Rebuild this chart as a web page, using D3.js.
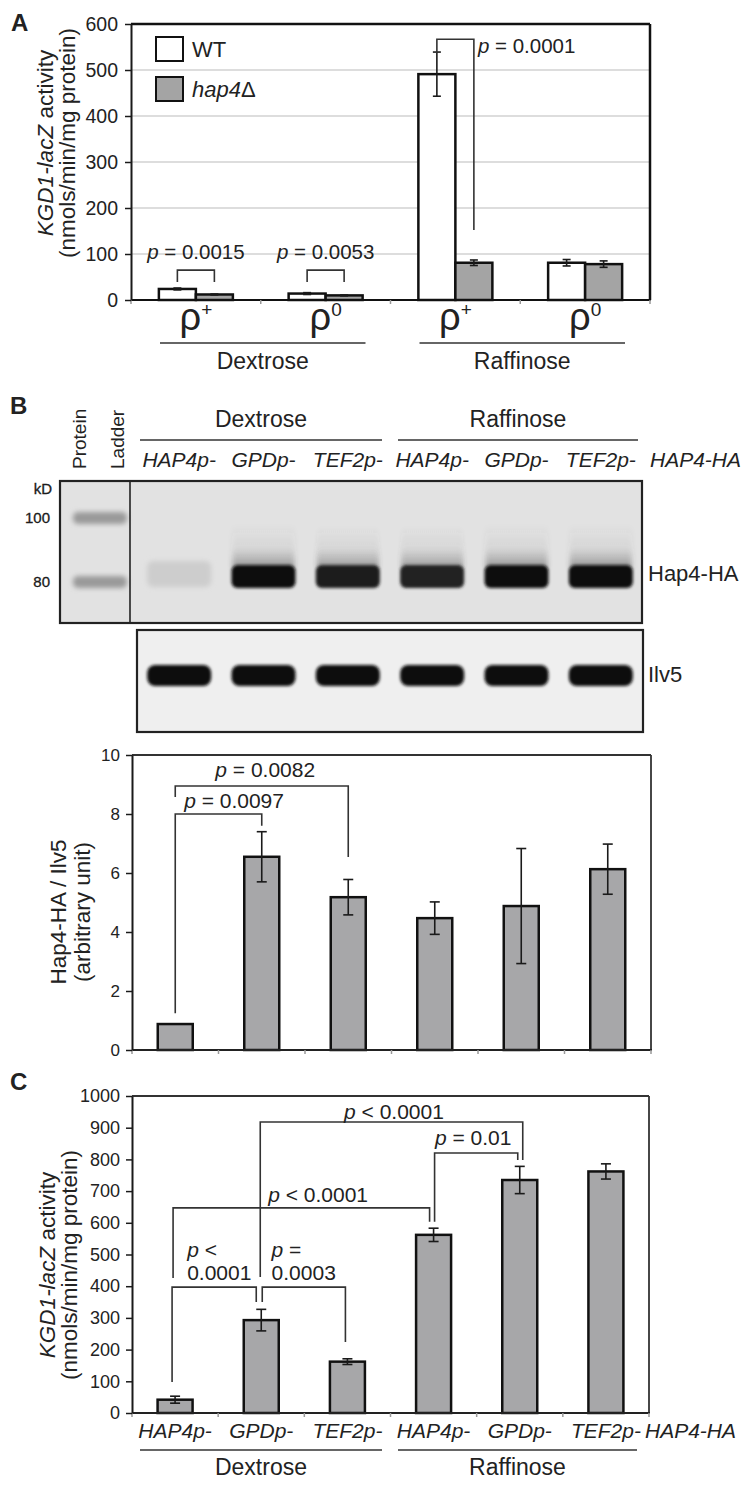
<!DOCTYPE html>
<html><head><meta charset="utf-8">
<script src="https://cdn.jsdelivr.net/npm/d3@7"></script>
<style>
body{margin:0;background:#fff}
svg{display:block}
text{font-family:"Liberation Sans",Arial,Helvetica,sans-serif;fill:#222}
</style>
</head><body>
<svg id="fig" width="745" height="1485"></svg>
<script>
// ---------------- Panel A data ----------------
const rhoStates = ["+", "0", "+", "0"];
const carbonSources = ["Dextrose", "Raffinose"];
const strainsA = ["WT", "hap4Δ"];
const wtActivity = [24, 14, 491, 81];
const wtError = [2, 2, 48, 7];
const hap4Activity = [12, 10, 81, 78];
const hap4Error = [1, 1, 6, 7];
const ticksA = [0, 100, 200, 300, 400, 500, 600];
// brackets: category, bracket level, leg ends (data units), label
const bracketsA = [
  {cat: 0, level: 65, endWT: 39, endHap: 39, label: "p = 0.0015", textLevel: 89, mode: "above"},
  {cat: 1, level: 65, endWT: 39, endHap: 39, label: "p = 0.0053", textLevel: 89, mode: "above"},
  {cat: 2, level: 567, endWT: 537, endHap: 152, label: "p = 0.0001", textLevel: 537, mode: "right"}
];

// ---------------- Panel B data ----------------
const promoters = ["HAP4p-", "GPDp-", "TEF2p-", "HAP4p-", "GPDp-", "TEF2p-"];
const hap4BandIntensity = [0.1, 1, 0.95, 0.92, 1, 1];
const ilv5BandIntensity = [1, 1, 1, 1, 1, 1];
const ladderKD = [100, 80];
const ratioB = [0.88, 6.55, 5.18, 4.47, 4.88, 6.13];
const ratioErrB = [0, 0.85, 0.6, 0.55, 1.95, 0.85];
const ticksB = [0, 2, 4, 6, 8, 10];
const bracketsB = [
  {from: 0, to: 2, level: 8.95, endFrom: 8.58, endTo: 6.54, lines: ["p = 0.0082"], textAt: 1.04, anchor: "middle", textLevels: [9.25]},
  {from: 0, to: 1, level: 8.0, endFrom: 1.25, endTo: 7.6, lines: ["p = 0.0097"], textAt: 0.68, anchor: "middle", textLevels: [8.2]}
];

// ---------------- Panel C data ----------------
const activityC = [42, 293, 162, 562, 735, 762];
const activityErrC = [11, 34, 9, 21, 43, 24];
const ticksC = [0, 100, 200, 300, 400, 500, 600, 700, 800, 900, 1000];
const bracketsC = [
  {from: 1, to: 4, dxFrom: -1, dxTo: 3, level: 918, endFrom: 429, endTo: 798, lines: ["p < 0.0001"], textAt: 2.54, anchor: "middle", textLevels: [927]},
  {from: 3, to: 4, dxFrom: 1, dxTo: -2, level: 820, endFrom: 603, endTo: 798, lines: ["p = 0.01"], textAt: 3.46, anchor: "middle", textLevels: [845]},
  {from: 0, to: 3, dxFrom: -2, dxTo: -4, level: 647, endFrom: 426, endTo: 603, lines: ["p < 0.0001"], textAt: 1.08, anchor: "start", textLevels: [666]},
  {from: 0, to: 1, dxFrom: -3, dxTo: -5, level: 397, endFrom: 98, endTo: 350, lines: ["p <", "0.0001"], textAt: 0.14, anchor: "start", textLevels: [492, 420]},
  {from: 1, to: 2, dxFrom: 1, dxTo: -2, level: 397, endFrom: 350, endTo: 224, lines: ["p =", "0.0003"], textAt: 1.12, anchor: "start", textLevels: [492, 420]}
];

// ---------------- helpers ----------------
const svg = d3.select("#fig");
const INK = "#1a1a1a";
const defs = svg.append("defs");
defs.append("filter").attr("id", "blurS").attr("x", "-20%").attr("y", "-50%").attr("width", "140%").attr("height", "200%")
  .append("feGaussianBlur").attr("stdDeviation", 1.4);
defs.append("filter").attr("id", "blurL").attr("x", "-20%").attr("y", "-50%").attr("width", "140%").attr("height", "200%")
  .append("feGaussianBlur").attr("stdDeviation", 2.5);
const smear = defs.append("linearGradient").attr("id", "smear").attr("x1", 0).attr("y1", 0).attr("x2", 0).attr("y2", 1);
smear.append("stop").attr("offset", "0%").attr("stop-color", "#555").attr("stop-opacity", 0);
smear.append("stop").attr("offset", "55%").attr("stop-color", "#555").attr("stop-opacity", 0.08);
smear.append("stop").attr("offset", "100%").attr("stop-color", "#333").attr("stop-opacity", 0.45);

function rich(parent, x, y, parts, size, anchor, transform) {
  const t = parent.append("text").attr("x", x).attr("y", y).attr("font-size", size)
    .attr("text-anchor", anchor || "start");
  if (transform) t.attr("transform", transform);
  parts.forEach(([s, it]) => t.append("tspan").attr("font-style", it ? "italic" : "normal").text(s));
  return t;
}
function pParts(line) {
  if (line.startsWith("p ")) return [["p", true], [line.slice(1), false]];
  return [[line, false]];
}
function line(parent, x1, y1, x2, y2, w, col) {
  parent.append("line").attr("x1", x1).attr("y1", y1).attr("x2", x2).attr("y2", y2)
    .attr("stroke", col || INK).attr("stroke-width", w || 1.5);
}
function bracket(parent, x1, x2, yTop, y1, y2) {
  parent.append("path").attr("d", `M${x1},${y1}V${yTop}H${x2}V${y2}`)
    .attr("fill", "none").attr("stroke", "#333").attr("stroke-width", 1.6);
}
function errBar(parent, x, yHi, yLo, cap) {
  line(parent, x, yHi, x, yLo, 1.6);
  line(parent, x - cap, yHi, x + cap, yHi, 1.6);
  line(parent, x - cap, yLo, x + cap, yLo, 1.6);
}
function styleAxis(g, size) {
  g.selectAll("text").attr("font-size", size).attr("fill", "#222").attr("font-family", '"Liberation Sans",Arial,sans-serif');
  g.selectAll("line").attr("stroke", INK).attr("stroke-width", 1.5);
  g.select(".domain").attr("stroke", INK).attr("stroke-width", 2);
}
function panelLabel(t, x, y) {
  svg.append("text").attr("x", x).attr("y", y).attr("font-size", 24).attr("font-weight", "bold").attr("fill", "#111").text(t);
}

// ================= Panel A =================
const gA = svg.append("g");
const xA = d3.scaleBand().domain(d3.range(rhoStates.length)).range([131, 650]);
const yA = d3.scaleLinear().domain([0, 600]).range([300, 24]);
const barWA = 37;
const cA = i => xA(i) + xA.bandwidth() / 2;

ticksA.filter(t => t > 0 && t < 600).forEach(t => line(gA, 131, yA(t), 650, yA(t), 1.5, "#d2d2d2"));

const seriesA = [
  {vals: wtActivity, errs: wtError, fill: "#ffffff", off: -barWA},
  {vals: hap4Activity, errs: hap4Error, fill: "#a4a4a4", off: 0}
];
seriesA.forEach(s => {
  gA.selectAll(null).data(s.vals).enter().append("rect")
    .attr("x", (d, i) => cA(i) + s.off).attr("width", barWA)
    .attr("y", d => yA(d)).attr("height", d => yA(0) - yA(d))
    .attr("fill", s.fill).attr("stroke", "#111").attr("stroke-width", 2.5);
});
seriesA.forEach(s => {
  s.vals.forEach((v, i) => {
    const x = cA(i) + s.off + barWA / 2;
    errBar(gA, x, yA(v + s.errs[i]), yA(v - s.errs[i]), 4);
  });
});

line(gA, 131, yA(600), 650, yA(600), 2.5, "#111");
line(gA, 650, yA(600), 650, yA(0), 2.5, "#111");
line(gA, 131, yA(0), 651, yA(0), 2, "#111");
d3.range(rhoStates.length + 1).forEach(i => {
  const x = 131 + i * xA.bandwidth();
  line(gA, x, yA(0), x, yA(0) + 4, 1.5, "#999");
});
const axA = gA.append("g").attr("transform", "translate(131,0)")
  .call(d3.axisLeft(yA).tickValues(ticksA).tickFormat(d3.format("d")).tickSize(6).tickSizeOuter(0).tickPadding(7));
styleAxis(axA, 19.5);

bracketsA.forEach(b => {
  const xw = cA(b.cat) - barWA / 2, xh = cA(b.cat) + barWA / 2;
  bracket(gA, xw, xh, yA(b.level), yA(b.endWT), yA(b.endHap));
  if (b.mode === "above") rich(gA, (xw + xh) / 2, yA(b.textLevel), pParts(b.label), 20.5, "middle");
  else rich(gA, xh + 4, yA(b.textLevel), pParts(b.label), 20.5, "start");
});

rhoStates.forEach((r, i) => {
  const t = gA.append("text").attr("x", cA(i)).attr("y", 330).attr("text-anchor", "middle")
    .attr("font-family", '"Liberation Serif","Times New Roman",serif').attr("font-size", 38).text("ρ");
  t.append("tspan").attr("font-family", '"Liberation Sans",Arial,sans-serif').attr("font-size", 19).attr("dy", -14).text(r);
});
carbonSources.forEach((s, k) => {
  const x1 = xA(2 * k) + 29, x2 = xA(2 * k + 1) + xA.bandwidth() - 25;
  line(gA, x1, 343, x2, 343, 1.3, "#333");
  gA.append("text").attr("x", (x1 + x2) / 2).attr("y", 369).attr("text-anchor", "middle").attr("font-size", 23).text(s);
});

const legA = gA.append("g");
strainsA.forEach((s, i) => {
  const y0 = 37 + i * 40;
  legA.append("rect").attr("x", 156).attr("y", y0).attr("width", 27).attr("height", 24)
    .attr("fill", seriesA[i].fill).attr("stroke", "#111").attr("stroke-width", 2);
  if (i === 0) rich(legA, 192, y0 + 20, [[s, false]], 22);
  else rich(legA, 192, y0 + 20, [["hap4", true], ["Δ", false]], 22);
});

rich(gA, 0, 0, [["KGD1-lacZ", true], [" activity", false]], 22.5, "middle", "translate(53,143) rotate(-90)");
rich(gA, 0, 0, [["(nmols/min/mg protein)", false]], 22.5, "middle", "translate(75,143) rotate(-90)");
panelLabel("A", 11, 31);

// ================= Panel B: blot =================
const gBlot = svg.append("g");
panelLabel("B", 10, 414);
const lane = d3.scaleBand().domain(d3.range(promoters.length)).range([137, 643]);
const lc = i => lane(i) + lane.bandwidth() / 2;

["Dextrose", "Raffinose"].forEach((s, k) => {
  const x1 = k === 0 ? 140 : 398, x2 = k === 0 ? 382 : 638;
  gBlot.append("text").attr("x", (x1 + x2) / 2).attr("y", 427).attr("text-anchor", "middle").attr("font-size", 23).text(s);
  line(gBlot, x1, 440, x2, 440, 1.3, "#333");
});
promoters.forEach((p, i) => rich(gBlot, lc(i), 467, [[p, true]], 21, "middle"));
rich(gBlot, 650, 467, [["HAP4-HA", true]], 21, "start");
rich(gBlot, 0, 0, [["Protein", false]], 19, "start", "translate(86,469) rotate(-90)");
rich(gBlot, 0, 0, [["Ladder", false]], 19, "start", "translate(124,469) rotate(-90)");

// membrane 1
gBlot.append("rect").attr("x", 60).attr("y", 481).attr("width", 582).attr("height", 142).attr("fill", "#e2e2e2");
const ladderY = d3.scaleLinear().domain([100, 80]).range([518, 582]);
ladderKD.forEach(k => {
  gBlot.append("rect").attr("x", 73).attr("y", ladderY(k) - 6).attr("width", 54).attr("height", 12).attr("rx", 5)
    .attr("fill", "#9a9a9a").attr("filter", "url(#blurL)");
  gBlot.append("text").attr("x", 50).attr("y", ladderY(k) + 5).attr("text-anchor", "end").attr("font-size", 15)
    .attr("fill", "#111").attr("stroke", "#111").attr("stroke-width", 0.3).text(k);
});
gBlot.append("text").attr("x", 52).attr("y", 494).attr("text-anchor", "end").attr("font-size", 15)
  .attr("fill", "#111").attr("stroke", "#111").attr("stroke-width", 0.3).text("kD");
const bandCol = d3.interpolateRgb("#e2e2e2", "#111");
hap4BandIntensity.forEach((v, i) => {
  const x = lc(i);
  if (v > 0.5) {
    gBlot.append("rect").attr("x", x - 31).attr("y", 525).attr("width", 62).attr("height", 43)
      .attr("fill", "url(#smear)").attr("opacity", v).attr("filter", "url(#blurL)");
  }
  gBlot.append("rect").attr("x", x - 32).attr("y", v > 0.5 ? 565 : 561).attr("width", 64).attr("height", v > 0.5 ? 23 : 26).attr("rx", 6)
    .attr("fill", bandCol(v)).attr("filter", v > 0.5 ? "url(#blurS)" : "url(#blurL)");
});
gBlot.append("rect").attr("x", 60).attr("y", 481).attr("width", 582).attr("height", 142)
  .attr("fill", "none").attr("stroke", "#222").attr("stroke-width", 2.2);
line(gBlot, 130, 481, 130, 623, 1.6, "#222");
gBlot.append("text").attr("x", 648).attr("y", 581).attr("font-size", 22).text("Hap4-HA");

// membrane 2
gBlot.append("rect").attr("x", 137).attr("y", 630).attr("width", 506).attr("height", 102).attr("fill", "#efefef");
ilv5BandIntensity.forEach((v, i) => {
  gBlot.append("rect").attr("x", lc(i) - 32).attr("y", 665).attr("width", 64).attr("height", 21).attr("rx", 8)
    .attr("fill", bandCol(v)).attr("filter", "url(#blurS)");
});
gBlot.append("rect").attr("x", 137).attr("y", 630).attr("width", 506).attr("height", 102)
  .attr("fill", "none").attr("stroke", "#222").attr("stroke-width", 2.2);
gBlot.append("text").attr("x", 648).attr("y", 682).attr("font-size", 22).text("Ilv5");

// ================= generic single-series bar chart =================
function barPanel(g, x, y, vals, errs, ticks, tickSize, brackets, barW, cap) {
  const c = i => x(i) + x.bandwidth() / 2;
  const [x0, x1] = x.range();
  const [yb, yt] = y.range();
  const catX = p => x0 + (p + 0.5) * x.bandwidth();
  g.selectAll(null).data(vals).enter().append("rect")
    .attr("x", (d, i) => c(i) - barW / 2).attr("width", barW)
    .attr("y", d => y(d)).attr("height", d => y(0) - y(d))
    .attr("fill", "#a7a7a9").attr("stroke", "#111").attr("stroke-width", 2.5);
  vals.forEach((v, i) => { if (errs[i] > 0) errBar(g, c(i), y(v + errs[i]), y(v - errs[i]), cap); });
  line(g, x0, yt, x1, yt, 1.8, "#333");
  line(g, x1, yt, x1, yb, 1.8, "#333");
  line(g, x0, yb, x1 + 1, yb, 2, "#222");
  d3.range(vals.length + 1).forEach(i => {
    const xx = x0 + i * x.bandwidth();
    line(g, xx, yb, xx, yb + 4, 1.5, "#999");
  });
  const ax = g.append("g").attr("transform", `translate(${x0},0)`)
    .call(d3.axisLeft(y).tickValues(ticks).tickFormat(d3.format("d")).tickSize(6).tickSizeOuter(0).tickPadding(6));
  styleAxis(ax, tickSize);
  brackets.forEach(b => {
    const xa = c(b.from) + (b.dxFrom || 0), xb = c(b.to) + (b.dxTo || 0);
    bracket(g, xa, xb, y(b.level), y(b.endFrom), y(b.endTo));
    b.lines.forEach((ln, k) => rich(g, catX(b.textAt), y(b.textLevels[k]), pParts(ln), 21, b.anchor));
  });
  return c;
}

// ================= Panel B: quantification =================
const gB = svg.append("g");
const xB = d3.scaleBand().domain(d3.range(ratioB.length)).range([132, 651]);
const yB = d3.scaleLinear().domain([0, 10]).range([1050, 755]);
barPanel(gB, xB, yB, ratioB, ratioErrB, ticksB, 17, bracketsB, 35, 5);
rich(gB, 0, 0, [["Hap4-HA / Ilv5", false]], 22.5, "middle", "translate(66,912) rotate(-90)");
rich(gB, 0, 0, [["(arbitrary unit)", false]], 22.5, "middle", "translate(90,912) rotate(-90)");

// ================= Panel C =================
const gC = svg.append("g");
panelLabel("C", 10, 1090);
const xC = d3.scaleBand().domain(d3.range(activityC.length)).range([132, 649]);
const yC = d3.scaleLinear().domain([0, 1000]).range([1413, 1096]);
const cC = barPanel(gC, xC, yC, activityC, activityErrC, ticksC, 18, bracketsC, 35, 5);
promoters.forEach((p, i) => rich(gC, cC(i), 1438, [[p, true]], 21, "middle"));
rich(gC, 645, 1438, [["HAP4-HA", true]], 21, "start");
["Dextrose", "Raffinose"].forEach((s, k) => {
  const x1 = k === 0 ? 140 : 398, x2 = k === 0 ? 382 : 637;
  line(gC, x1, 1450, x2, 1450, 1.3, "#333");
  gC.append("text").attr("x", (x1 + x2) / 2).attr("y", 1475).attr("text-anchor", "middle").attr("font-size", 23).text(s);
});
rich(gC, 0, 0, [["KGD1-lacZ", true], [" activity", false]], 22.5, "middle", "translate(55,1265) rotate(-90)");
rich(gC, 0, 0, [["(nmols/min/mg protein)", false]], 22.5, "middle", "translate(77,1265) rotate(-90)");
</script>
</body></html>
